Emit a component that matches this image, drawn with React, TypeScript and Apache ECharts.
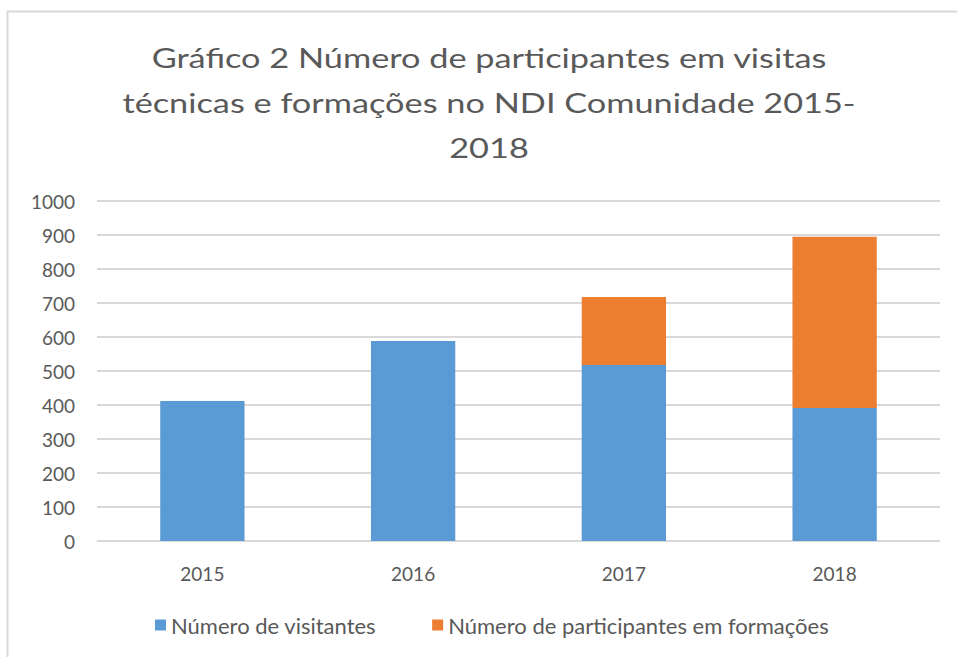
import React, { useEffect, useRef } from "react";
import * as echarts from "echarts";

const categories = ["2015", "2016", "2017", "2018"];
const visitantes = [412, 588, 518, 391];
const formacoes = [0, 0, 200, 504];
const seriesNames = ["Número de visitantes", "Número de participantes em formações"];
const titleLines = [
  "Gráfico 2 Número de participantes em visitas",
  "técnicas e formações no NDI Comunidade 2015-",
  "2018",
];

export default function App() {
  const ref = useRef<HTMLDivElement>(null);
  useEffect(() => {
    const chart = echarts.init(ref.current!, null, { renderer: "svg" });
    const font = "Lato, 'Liberation Sans', sans-serif";
    const baselines = [71, 116, 161];
    chart.setOption({
      animation: false,
      backgroundColor: "#fff",
      textStyle: { fontFamily: font },
      graphic: [
        {
          type: "rect",
          shape: { x: 7.5, y: 11.5, width: 1000, height: 700 },
          style: { fill: "none", stroke: "#d9d9d9", lineWidth: 2 },
          silent: true,
        },
        ...titleLines.map((t, i) => ({
          type: "text",
          x: 489,
          y: baselines[i],
          scaleX: 1.27,
          silent: true,
          style: {
            text: t,
            fontFamily: font,
            fontSize: 27,
            fill: "#595959",
            textAlign: "center",
            textVerticalAlign: "bottom",
          },
        })),
      ],
      grid: { left: 97, right: 17, top: 201, bottom: 116, containLabel: false },
      legend: {
        top: 609,
        left: 150,
        itemWidth: 11,
        itemHeight: 11,
        itemGap: 56,
        icon: "rect",
        textStyle: { fontFamily: font, fontSize: 22, color: "#595959" },
        data: seriesNames,
      },
      xAxis: {
        type: "category",
        data: categories,
        axisTick: { show: false },
        axisLine: { lineStyle: { color: "#d9d9d9", width: 1 } },
        axisLabel: { color: "#595959", fontSize: 19, margin: 23, fontFamily: font },
      },
      yAxis: {
        type: "value",
        min: 0,
        max: 1000,
        interval: 100,
        axisLine: { show: false },
        axisTick: { show: false },
        splitLine: { lineStyle: { color: "#d9d9d9", width: 2 } },
        axisLabel: {
          color: "#595959",
          fontSize: 19,
          margin: 22,
          fontFamily: font,
          formatter: (v: number) => String(v),
        },
      },
      series: [
        {
          name: seriesNames[0],
          type: "bar",
          stack: "total",
          data: visitantes,
          barWidth: "40%",
          itemStyle: { color: "#5b9bd5" },
        },
        {
          name: seriesNames[1],
          type: "bar",
          stack: "total",
          data: formacoes,
          barWidth: "40%",
          itemStyle: { color: "#ed7d31" },
        },
      ],
    });
    return () => chart.dispose();
  }, []);
  return <div ref={ref} style={{ position: "fixed", left: 0, top: 0, width: 957, height: 657 }} />;
}
